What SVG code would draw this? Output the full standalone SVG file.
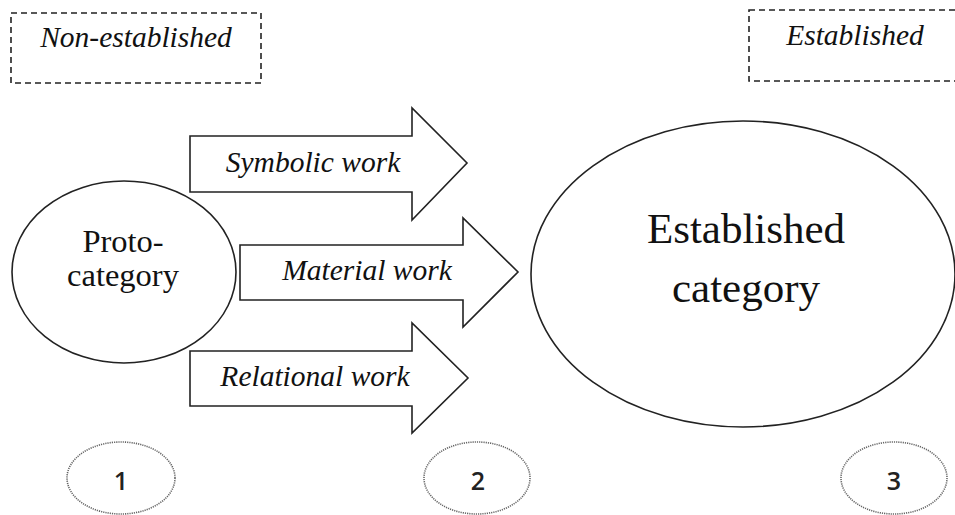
<svg xmlns="http://www.w3.org/2000/svg" width="955" height="515" viewBox="0 0 955 515">
<style>
.bg{fill:#fff}
.shape{fill:#fff;stroke:#222;stroke-width:1.6}
.dash{fill:none;stroke:#222;stroke-width:1.6;stroke-dasharray:6 4}
.dot{fill:none;stroke:#666;stroke-width:1.6;stroke-dasharray:1.2 1}
.it{font-family:"Liberation Serif","Times New Roman",serif;font-style:italic;font-size:29.5px;fill:#111;text-anchor:middle}
.serif{font-family:"Liberation Serif","Times New Roman",serif;fill:#111;text-anchor:middle}
.num{font-family:"Open Sans","Liberation Sans",sans-serif;font-size:25px;font-weight:600;fill:#222;text-anchor:middle}
</style>
<rect class="bg" x="0" y="0" width="955" height="515"/>
<g id="label-nonestablished">
<rect class="dash" x="11" y="13" width="250" height="70"/>
<text class="it" x="136" y="47">Non-established</text>
</g>
<g id="label-established">
<rect class="dash" x="749" y="10" width="220" height="71"/>
<text class="it" x="855" y="45">Established</text>
</g>
<g id="proto-category">
<ellipse class="shape" cx="124" cy="272" rx="112" ry="91"/>
<text class="serif" font-size="32.5" x="123" y="252">Proto-</text>
<text class="serif" font-size="32.5" x="123" y="286">category</text>
</g>
<g id="established-category">
<ellipse class="shape" cx="743" cy="274" rx="212" ry="153"/>
<text class="serif" font-size="43" x="746" y="243">Established</text>
<text class="serif" font-size="43" x="746" y="302">category</text>
</g>
<g id="connectors">
<g id="symbolic-work">
<path class="shape" d="M190,136 L412,136 L412,108 L467,163 L412,220 L412,192 L190,192 Z"/>
<text class="it" x="313" y="172">Symbolic work</text>
</g>
<g id="material-work">
<path class="shape" d="M240,245 L463,245 L463,218 L518,272 L463,327 L463,300 L240,300 Z"/>
<text class="it" x="367" y="280">Material work</text>
</g>
<g id="relational-work">
<path class="shape" d="M190,351 L412,351 L412,323 L468,378 L412,433 L412,406 L190,406 Z"/>
<text class="it" x="315" y="386">Relational work</text>
</g>
</g>
<g id="stage-1">
<ellipse class="dot" cx="121" cy="478" rx="54" ry="36"/>
<text class="num" x="121" y="490">1</text>
</g>
<g id="stage-2">
<ellipse class="dot" cx="477" cy="478" rx="53" ry="36"/>
<text class="num" x="478" y="490">2</text>
</g>
<g id="stage-3">
<ellipse class="dot" cx="894" cy="478" rx="53" ry="36"/>
<text class="num" x="894" y="490">3</text>
</g>
</svg>
